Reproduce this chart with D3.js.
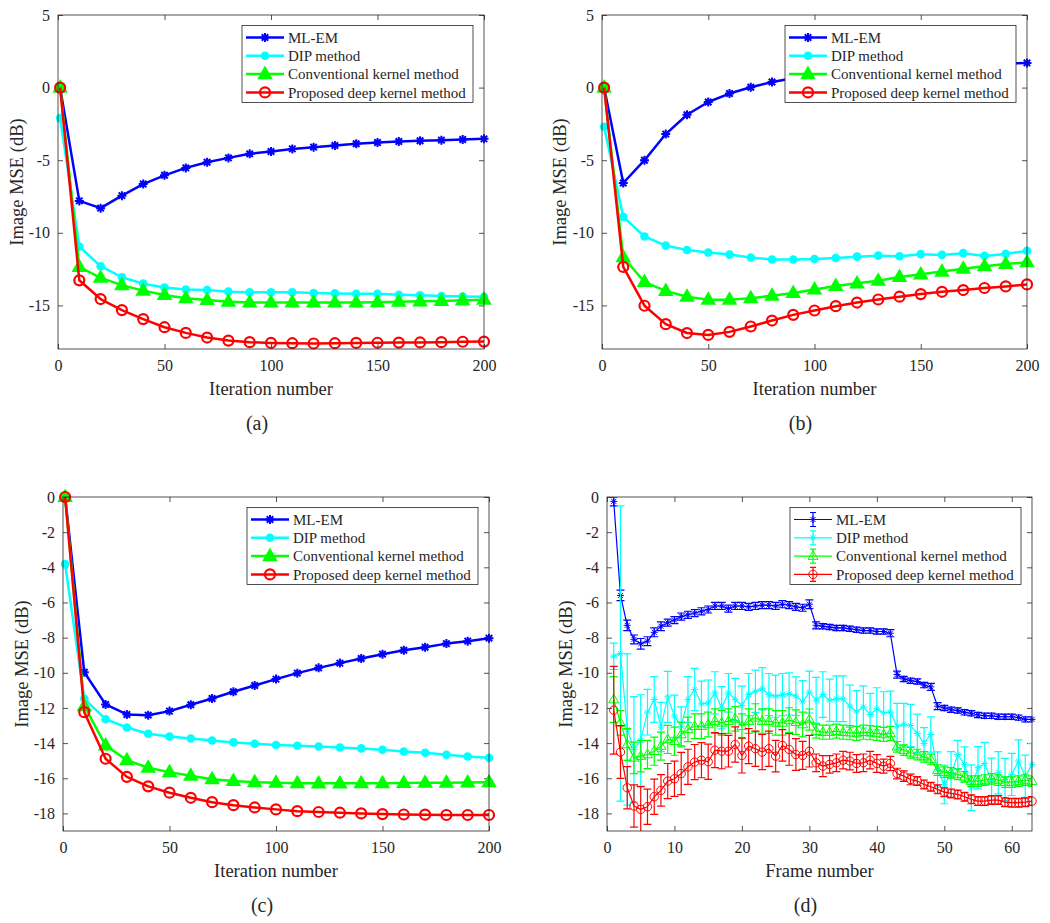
<!DOCTYPE html>
<html>
<head>
<meta charset="utf-8">
<script src="https://cdn.jsdelivr.net/npm/d3@7"></script>
<style>
  body { margin: 0; background: #fff; }
  svg text { font-family: "Liberation Serif", "Times New Roman", serif; fill: #262626; }
</style>
</head>
<body>
<svg id="chart" width="1050" height="923"></svg>
<script>
// x categories
const iterations = [1, 10, 20, 30, 40, 50, 60, 70, 80, 90, 100, 110, 120, 130, 140, 150, 160, 170, 180, 190, 200];
const frames = [1, 2, 3, 4, 5, 6, 7, 8, 9, 10, 11, 12, 13, 14, 15, 16, 17, 18, 19, 20,
  21, 22, 23, 24, 25, 26, 27, 28, 29, 30, 31, 32, 33, 34, 35, 36, 37, 38, 39, 40,
  41, 42, 43, 44, 45, 46, 47, 48, 49, 50, 51, 52, 53, 54, 55, 56, 57, 58, 59, 60, 61, 62, 63];

const seriesNames = ['ML-EM', 'DIP method', 'Conventional kernel method', 'Proposed deep kernel method'];
const seriesColors = ['#0000ff', '#00ffff', '#00ff00', '#ff0000'];

// panel (a)
const mlemA = [0, -7.8, -8.3, -7.44, -6.64, -6.04, -5.53, -5.14, -4.84, -4.56, -4.4, -4.22, -4.1, -3.99, -3.87, -3.78, -3.71, -3.66, -3.62, -3.57, -3.53];
const dipA = [-2.1, -10.94, -12.3, -13.06, -13.5, -13.76, -13.9, -13.94, -14.05, -14.1, -14.1, -14.1, -14.15, -14.17, -14.2, -14.2, -14.26, -14.3, -14.35, -14.38, -14.4];
const convA = [0, -12.35, -13.1, -13.6, -13.98, -14.28, -14.5, -14.63, -14.75, -14.8, -14.8, -14.8, -14.8, -14.8, -14.8, -14.78, -14.75, -14.72, -14.7, -14.65, -14.6];
const propA = [0, -13.27, -14.56, -15.32, -15.94, -16.5, -16.89, -17.21, -17.42, -17.53, -17.58, -17.6, -17.62, -17.6, -17.58, -17.57, -17.56, -17.55, -17.53, -17.5, -17.49];

// panel (b)
const mlemB = [0, -6.57, -5.0, -3.2, -1.87, -0.99, -0.41, 0.02, 0.39, 0.65, 0.85, 1.0, 1.12, 1.22, 1.32, 1.4, 1.47, 1.54, 1.6, 1.65, 1.7];
const dipB = [-2.7, -8.9, -10.25, -10.88, -11.18, -11.36, -11.5, -11.7, -11.84, -11.84, -11.8, -11.73, -11.64, -11.57, -11.61, -11.47, -11.52, -11.4, -11.59, -11.45, -11.24];
const convB = [0, -11.68, -13.39, -14.0, -14.4, -14.6, -14.6, -14.5, -14.33, -14.15, -13.9, -13.66, -13.48, -13.3, -13.04, -12.86, -12.67, -12.47, -12.3, -12.14, -12.03];
const propB = [0, -12.35, -15.02, -16.29, -16.9, -17.03, -16.82, -16.45, -16.04, -15.65, -15.35, -15.05, -14.8, -14.59, -14.4, -14.22, -14.06, -13.94, -13.8, -13.69, -13.55];

// panel (c)
const mlemC = [0, -9.97, -11.8, -12.37, -12.41, -12.18, -11.82, -11.46, -11.08, -10.72, -10.36, -10.02, -9.72, -9.45, -9.19, -8.94, -8.72, -8.55, -8.34, -8.2, -8.03];
const dipC = [-3.81, -11.48, -12.64, -13.11, -13.47, -13.62, -13.74, -13.85, -13.96, -14.04, -14.11, -14.15, -14.19, -14.25, -14.3, -14.38, -14.48, -14.55, -14.66, -14.76, -14.83];
const convC = [0, -11.9, -14.13, -14.97, -15.4, -15.65, -15.86, -16.05, -16.16, -16.22, -16.26, -16.28, -16.29, -16.29, -16.28, -16.28, -16.27, -16.26, -16.25, -16.24, -16.22];
const propC = [0, -12.24, -14.89, -15.92, -16.46, -16.82, -17.11, -17.36, -17.53, -17.66, -17.77, -17.87, -17.92, -17.96, -18.0, -18.04, -18.06, -18.07, -18.09, -18.09, -18.09];

// panel (d): mean and error per frame
const mlemD = [-0.25, -5.6, -7.3, -8.1, -8.35, -8.2, -7.7, -7.35, -7.15, -7.0,
  -6.8, -6.7, -6.6, -6.5, -6.4, -6.2, -6.2, -6.35, -6.2, -6.2,
  -6.25, -6.2, -6.15, -6.15, -6.2, -6.1, -6.15, -6.25, -6.3, -6.1,
  -7.3, -7.35, -7.4, -7.45, -7.45, -7.5, -7.55, -7.6, -7.6, -7.65,
  -7.65, -7.75, -10.1, -10.35, -10.45, -10.5, -10.7, -10.8, -11.9, -12.0,
  -12.1, -12.15, -12.25, -12.3, -12.4, -12.45, -12.45, -12.5, -12.5, -12.5,
  -12.55, -12.65, -12.65];
const mlemDErr = [0.25, 0.3, 0.3, 0.25, 0.3, 0.25, 0.25, 0.25, 0.2, 0.2,
  0.2, 0.2, 0.2, 0.2, 0.2, 0.2, 0.2, 0.2, 0.2, 0.2,
  0.2, 0.2, 0.2, 0.2, 0.2, 0.2, 0.2, 0.2, 0.2, 0.25,
  0.2, 0.15, 0.15, 0.15, 0.15, 0.15, 0.15, 0.15, 0.15, 0.15,
  0.15, 0.2, 0.2, 0.15, 0.15, 0.15, 0.15, 0.2, 0.2, 0.15,
  0.15, 0.15, 0.15, 0.15, 0.15, 0.15, 0.15, 0.15, 0.15, 0.15,
  0.15, 0.15, 0.15];
const dipD = [-9.06, -8.9, -13.22, -14.36, -13.85, -12.24, -11.52, -13.09, -11.37, -12.47,
  -13.04, -11.52, -10.95, -11.77, -11.71, -11.14, -11.99, -11.14, -11.52, -11.86,
  -11.24, -11.05, -10.91, -11.24, -11.33, -11.24, -11.2, -11.33, -11.65, -11.1,
  -11.56, -11.24, -11.56, -11.48, -11.48, -11.9, -12.22, -11.94, -12.37, -12.05,
  -12.28, -12.24, -13.04, -12.94, -13.0, -13.45, -14.02, -13.51, -15.5, -16.35,
  -15.78, -14.65, -15.21, -16.54, -15.4, -15.16, -16.16, -15.69, -16.07, -15.78,
  -15.02, -15.88, -15.21];
const dipDErr = [0.75, 8.4, 4.3, 3.0, 2.6, 1.3, 1.3, 1.4, 1.45, 1.2,
  1.1, 1.3, 1.2, 1.3, 1.3, 1.2, 1.2, 1.1, 1.2, 1.1,
  1.2, 1.2, 1.2, 1.2, 1.2, 1.2, 1.2, 1.1, 1.2, 1.2,
  1.3, 1.3, 1.2, 1.3, 1.3, 1.2, 1.2, 1.2, 1.2, 1.2,
  1.2, 1.2, 1.3, 1.2, 1.2, 1.1, 0.9, 1.0, 1.0, 1.1,
  1.3, 0.8, 1.0, 1.3, 1.2, 1.2, 1.3, 1.2, 1.2, 1.2,
  1.2, 1.2, 1.2];
const convD = [-11.52, -12.85, -14.08, -14.84, -14.74, -14.65, -14.46, -14.17, -13.79, -13.89,
  -13.51, -13.22, -13.04, -13.04, -12.94, -12.75, -12.85, -12.75, -12.62, -13.04,
  -12.75, -12.56, -12.75, -12.75, -12.85, -12.85, -12.69, -12.81, -12.94, -12.66,
  -13.32, -13.38, -13.38, -13.32, -13.38, -13.41, -13.45, -13.38, -13.41, -13.45,
  -13.51, -13.45, -14.21, -14.4, -14.55, -14.65, -14.78, -14.93, -15.54, -15.65,
  -15.69, -15.78, -15.92, -16.16, -16.16, -16.1, -16.03, -16.1, -16.22, -16.22,
  -16.16, -16.1, -16.16];
const convDErr = [1.3, 0.7, 0.9, 0.9, 0.9, 0.8, 0.8, 0.8, 0.8, 0.8,
  0.7, 0.7, 0.7, 0.7, 0.7, 0.7, 0.7, 0.7, 0.7, 0.7,
  0.7, 0.8, 0.7, 0.7, 0.7, 0.7, 0.7, 0.7, 0.7, 0.6,
  0.4, 0.4, 0.4, 0.4, 0.4, 0.4, 0.4, 0.4, 0.4, 0.4,
  0.4, 0.4, 0.3, 0.3, 0.3, 0.3, 0.3, 0.3, 0.3, 0.3,
  0.3, 0.3, 0.3, 0.3, 0.3, 0.3, 0.3, 0.3, 0.3, 0.3,
  0.3, 0.3, 0.3];
const propD = [-12.13, -14.51, -16.54, -17.58, -17.77, -17.62, -17.05, -16.69, -16.16, -16.03,
  -15.73, -15.35, -15.08, -14.97, -15.06, -14.4, -14.46, -14.46, -14.08, -14.7,
  -14.17, -14.32, -14.51, -14.32, -14.74, -14.13, -14.36, -14.65, -14.7, -14.46,
  -15.12, -15.31, -15.21, -15.12, -14.97, -15.02, -15.16, -15.12, -14.97, -15.16,
  -15.31, -15.16, -15.73, -15.88, -16.07, -16.16, -16.35, -16.48, -16.63, -16.79,
  -16.86, -16.92, -17.05, -17.2, -17.3, -17.3, -17.24, -17.24, -17.36, -17.39,
  -17.39, -17.36, -17.3];
const propDErr = [2.5, 1.5, 1.2, 1.2, 1.3, 1.0, 1.0, 0.9, 1.0, 1.0,
  1.2, 1.0, 1.0, 1.0, 1.0, 1.0, 1.0, 0.9, 1.0, 1.0,
  1.0, 1.0, 1.0, 1.0, 0.9, 0.9, 0.9, 0.9, 0.8, 0.9,
  0.5, 0.6, 0.5, 0.5, 0.5, 0.5, 0.5, 0.5, 0.5, 0.5,
  0.4, 0.4, 0.3, 0.3, 0.3, 0.25, 0.25, 0.25, 0.25, 0.25,
  0.25, 0.25, 0.25, 0.25, 0.25, 0.25, 0.25, 0.25, 0.25, 0.25,
  0.25, 0.25, 0.25];

const xTicksIter = [0, 50, 100, 150, 200];
const xTicksFrame = [0, 10, 20, 30, 40, 50, 60];
const yTicksAB = [-15, -10, -5, 0, 5];
const yTicksCD = [-18, -16, -14, -12, -10, -8, -6, -4, -2, 0];

const svg = d3.select('#chart');
const axisColor = '#262626';

const panels = [
  { id: 'a', left: 58, right: 484, top: 15, bottom: 349, xDomain: [0, 200], yDomain: [-18, 5],
    xTicks: xTicksIter, yTicks: yTicksAB, xs: iterations, series: [mlemA, dipA, convA, propA],
    xLabel: 'Iteration number', yLabelX: 17 },
  { id: 'b', left: 602, right: 1027, top: 15, bottom: 349, xDomain: [0, 200], yDomain: [-18, 5],
    xTicks: xTicksIter, yTicks: yTicksAB, xs: iterations, series: [mlemB, dipB, convB, propB],
    xLabel: 'Iteration number', yLabelX: 560 },
  { id: 'c', left: 63, right: 489, top: 497, bottom: 831, xDomain: [0, 200], yDomain: [-19, 0],
    xTicks: xTicksIter, yTicks: yTicksCD, xs: iterations, series: [mlemC, dipC, convC, propC],
    xLabel: 'Iteration number', yLabelX: 22 },
  { id: 'd', left: 607, right: 1032, top: 497, bottom: 831, xDomain: [0, 63], yDomain: [-19, 0],
    xTicks: xTicksFrame, yTicks: yTicksCD, xs: frames, series: [mlemD, dipD, convD, propD],
    errors: [mlemDErr, dipDErr, convDErr, propDErr],
    xLabel: 'Frame number', yLabelX: 566 }
];

const markerTypes = ['star', 'dot', 'tri', 'ring'];

function markerPath(type, s) {
  if (type === 'star' || type === 'ast') {
    const k = s * 0.72;
    return `M${-s},0L${s},0M0,${-s}L0,${s}M${-k},${-k}L${k},${k}M${-k},${k}L${k},${-k}`;
  }
  if (type === 'tri') {
    const h = s * 0.866;
    return `M0,${-h * 0.62}L${s / 2},${h * 0.38}L${-s / 2},${h * 0.38}Z`;
  }
  return null;
}

function drawMarker(g, type, cx, cy, color, thin) {
  if (type === 'dot') {
    if (thin) {
      g.append('path').attr('d', markerPath('star', 3.5)).attr('transform', `translate(${cx},${cy})`)
        .attr('fill', 'none').attr('stroke', color).attr('stroke-width', 1);
    } else {
      g.append('circle').attr('cx', cx).attr('cy', cy).attr('r', 4.3).attr('fill', color);
    }
  } else if (type === 'ring') {
    g.append('circle').attr('cx', cx).attr('cy', cy).attr('r', thin ? 4.2 : 5)
      .attr('fill', 'none').attr('stroke', color).attr('stroke-width', thin ? 1 : 2.2);
  } else if (type === 'tri') {
    g.append('path').attr('d', markerPath('tri', thin ? 10 : 13)).attr('transform', `translate(${cx},${cy})`)
      .attr('fill', thin ? 'none' : color).attr('stroke', color).attr('stroke-width', thin ? 1 : 1.5);
  } else {
    g.append('path').attr('d', markerPath('star', thin ? 3.5 : 4.5)).attr('transform', `translate(${cx},${cy})`)
      .attr('fill', 'none').attr('stroke', color).attr('stroke-width', thin ? 1 : 2);
  }
}

function styleAxis(sel) {
  sel.select('.domain').remove();
  sel.selectAll('.tick line').attr('stroke', axisColor).attr('stroke-width', 0.8);
  sel.selectAll('.tick text').attr('font-size', 16).style('fill', axisColor);
}

function drawPanel(p) {
  const g = svg.append('g').attr('class', 'panel-' + p.id);
  const x = d3.scaleLinear().domain(p.xDomain).range([p.left, p.right]);
  const y = d3.scaleLinear().domain(p.yDomain).range([p.bottom, p.top]);
  const thin = !!p.errors;

  g.append('clipPath').attr('id', 'clip-' + p.id)
    .append('rect').attr('x', p.left).attr('y', p.top)
    .attr('width', p.right - p.left).attr('height', p.bottom - p.top);

  const fmt = d => String(d);
  g.append('g').attr('transform', `translate(0,${p.bottom})`)
    .call(d3.axisBottom(x).tickValues(p.xTicks).tickFormat(fmt).tickSizeInner(-5).tickSizeOuter(0).tickPadding(11))
    .call(styleAxis);
  g.append('g').attr('transform', `translate(0,${p.top})`)
    .call(d3.axisTop(x).tickValues(p.xTicks).tickFormat('').tickSizeInner(-5).tickSizeOuter(0))
    .call(styleAxis);
  g.append('g').attr('transform', `translate(${p.left},0)`)
    .call(d3.axisLeft(y).tickValues(p.yTicks).tickFormat(fmt).tickSizeInner(-5).tickSizeOuter(0).tickPadding(8))
    .call(styleAxis);
  g.append('g').attr('transform', `translate(${p.right},0)`)
    .call(d3.axisRight(y).tickValues(p.yTicks).tickFormat('').tickSizeInner(-5).tickSizeOuter(0))
    .call(styleAxis);

  const plot = g.append('g');
  const line = d3.line().x(d => x(d[0])).y(d => y(d[1]));

  p.series.forEach((vals, i) => {
    const color = seriesColors[i];
    const pts = p.xs.map((xv, j) => [xv, vals[j]]);
    const sg = plot.append('g');
    if (thin) {
      const err = p.errors[i];
      const eb = sg.append('g').attr('clip-path', `url(#clip-${p.id})`)
        .attr('stroke', color).attr('stroke-width', 1.2).attr('fill', 'none');
      pts.forEach((d, j) => {
        const cx = x(d[0]), y0 = y(d[1] + err[j]), y1 = y(d[1] - err[j]);
        eb.append('path').attr('d', `M${cx},${y0}L${cx},${y1}M${cx - 4},${y0}L${cx + 4},${y0}M${cx - 4},${y1}L${cx + 4},${y1}`);
      });
    }
    sg.append('path').datum(pts).attr('d', line).attr('clip-path', `url(#clip-${p.id})`)
      .attr('fill', 'none').attr('stroke', color).attr('stroke-width', thin ? 1.2 : 2.5)
      .attr('stroke-linejoin', 'round');
    pts.forEach(d => drawMarker(sg, markerTypes[i], x(d[0]), y(d[1]), color, thin));
  });

  // box
  g.append('rect').attr('x', p.left).attr('y', p.top)
    .attr('width', p.right - p.left).attr('height', p.bottom - p.top)
    .attr('fill', 'none').attr('stroke', axisColor).attr('stroke-width', 0.8);

  // legend
  const lw = 231, lh = 77;
  const lx = p.right - 11 - lw, ly = p.top + 10.5;
  const lg = g.append('g');
  lg.append('rect').attr('x', lx).attr('y', ly).attr('width', lw).attr('height', lh)
    .attr('fill', '#fff').attr('stroke', axisColor).attr('stroke-width', 0.8);
  seriesNames.forEach((name, i) => {
    const cy = ly + 12 + i * 18.3;
    const color = seriesColors[i];
    lg.append('line').attr('x1', lx + 4).attr('x2', lx + 42).attr('y1', cy).attr('y2', cy)
      .attr('stroke', color).attr('stroke-width', thin ? 1.2 : 2.5);
    if (thin) {
      lg.append('path').attr('d', `M${lx + 23},${cy - 7}L${lx + 23},${cy + 7}M${lx + 20},${cy - 7}L${lx + 26},${cy - 7}M${lx + 20},${cy + 7}L${lx + 26},${cy + 7}`)
        .attr('stroke', color).attr('stroke-width', 1.2).attr('fill', 'none');
    }
    drawMarker(lg, markerTypes[i], lx + 23, cy, color, thin);
    lg.append('text').attr('x', lx + 46).attr('y', cy).attr('dy', '0.35em')
      .attr('font-size', 15).text(name);
  });

  // axis labels
  g.append('text').attr('x', (p.left + p.right) / 2).attr('y', p.bottom + 40).attr('dy', '0.35em')
    .attr('text-anchor', 'middle').attr('font-size', 18.5).text(p.xLabel);
  g.append('text').attr('transform', `translate(${p.yLabelX},${(p.top + p.bottom) / 2}) rotate(-90)`)
    .attr('dy', '0.35em').attr('text-anchor', 'middle').attr('font-size', 18.5).text('Image MSE (dB)');
  g.append('text').attr('x', (p.left + p.right) / 2 - 14).attr('y', p.bottom + 74).attr('dy', '0.35em')
    .attr('text-anchor', 'middle').attr('font-size', 20).text(`(${p.id})`);
}

panels.forEach(drawPanel);
</script>
</body>
</html>
